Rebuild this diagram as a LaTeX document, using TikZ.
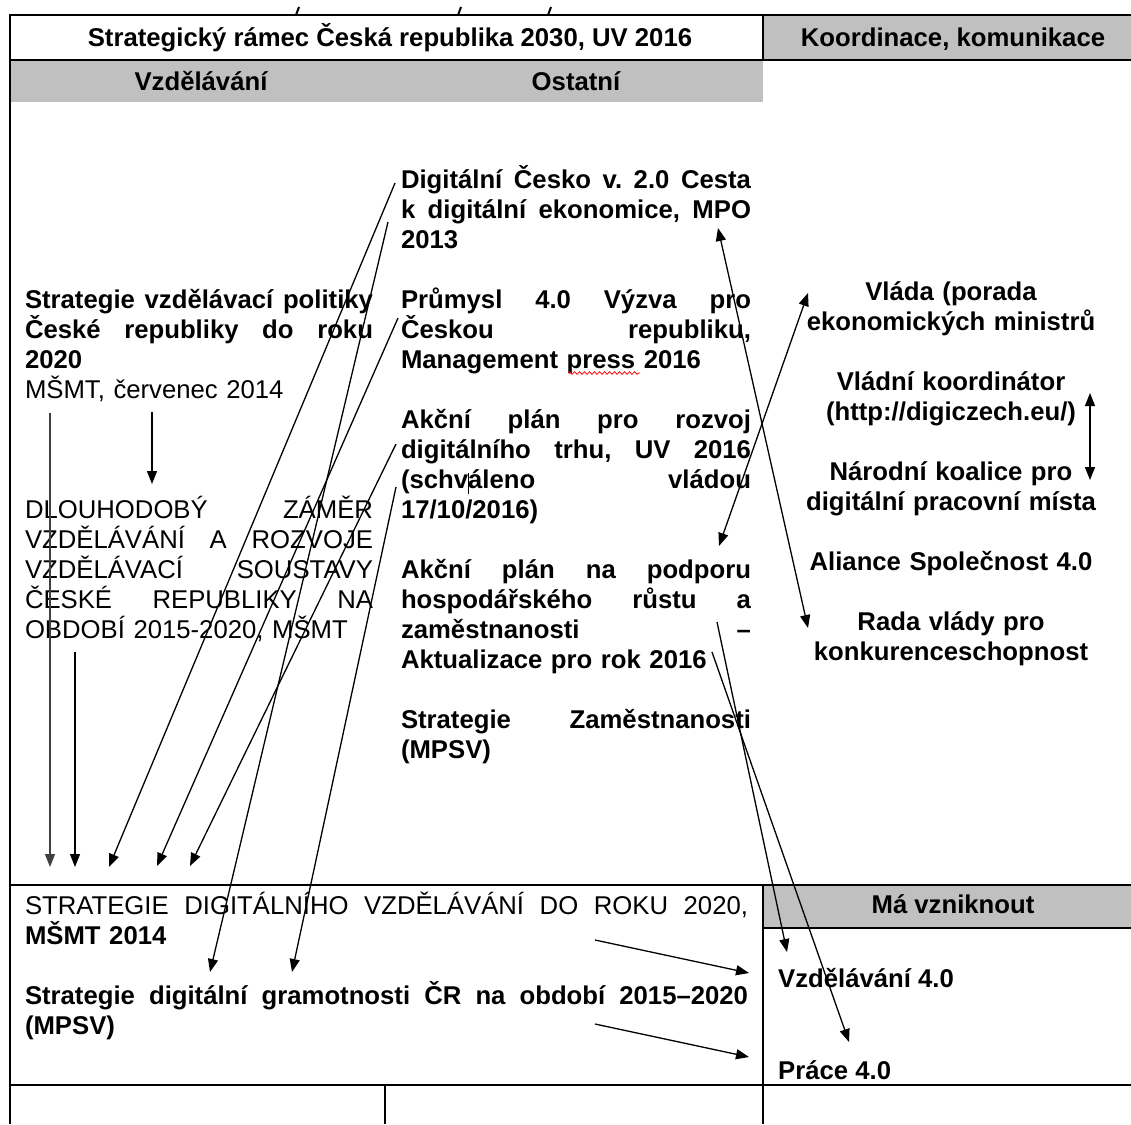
\documentclass[tikz,border=0pt]{standalone}
\usepackage{fontspec}
\setmainfont{Liberation Sans}
\usetikzlibrary{arrows.meta,decorations.pathmorphing}
\newcommand\jl[2]{\leavevmode\hbox to #1{#2}}
\newcommand\fst{\rule{0pt}{26pt}}
\definecolor{hdrgray}{RGB}{192,192,192}
\begin{document}
\begin{tikzpicture}[x=1pt,y=-1pt,
  bfnt/.style={font=\fontsize{25.7}{30}\selectfont\bfseries},
  rfnt/.style={font=\fontsize{25.7}{30}\selectfont},
  blockL/.style={inner sep=0pt,outer sep=0pt,anchor=north west,align=left},
  blockC/.style={inner sep=0pt,outer sep=0pt,anchor=north,align=center,text width=340pt},
  hdr/.style={inner sep=0pt,outer sep=0pt,anchor=base,bfnt},
  border/.style={line width=2.4pt},
  thinline/.style={line width=1.3pt},
  arr/.style={line width=1.3pt,-{Triangle[length=13pt,width=10pt]}},
  darr/.style={line width=1.3pt,{Triangle[length=13pt,width=10pt]}-{Triangle[length=13pt,width=10pt]}}]
\useasboundingbox (0,0) rectangle (1131,1124);

% gray fills
\fill[hdrgray] (763,15) rectangle (1131,60);
\fill[hdrgray] (10,60) rectangle (763,102);
\fill[hdrgray] (763,885) rectangle (1131,928);

% table lines
\draw[border] (10,15) -- (1131,15);
\draw[border] (10,14) -- (10,1124);
\draw[border] (10,60) -- (1131,60);
\draw[border] (763,15) -- (763,60);
\draw[border] (10,885) -- (1131,885);
\draw[border] (763,885) -- (763,1124);
\draw[border] (763,928) -- (1131,928);
\draw[border] (10,1085) -- (1131,1085);
\draw[thinline] (385,1085) -- (385,1124);

% cut-off marks at the top
\draw[line width=2pt] (299,7) -- (296,15);
\draw[line width=2pt] (461,7) -- (458,15);
\draw[line width=2pt] (551,7) -- (548,15);

% headers
\node[hdr] (title) at (390,47) {Strategický rámec Česká republika 2030, UV 2016};
\node[hdr] (koord) at (953,47) {Koordinace, komunikace};
\node[hdr] (vzdel) at (201,90) {Vzdělávání};
\node[hdr] (ostatni) at (576,90) {Ostatní};
\node[hdr] (mavz) at (953,913) {Má vzniknout};

% left column
\node[blockL,bfnt,text width=348pt] (svp) at (25,282) {\fst\jl{348pt}{Strategie\hfill vzdělávací\hfill politiky}\\
\jl{348pt}{České\hfill republiky\hfill do\hfill roku}\\
2020\\
{\mdseries MŠMT, červenec 2014}};
\node[blockL,rfnt,text width=348pt] (dz) at (25,492) {\fst\jl{348pt}{DLOUHODOBÝ\hfill ZÁMĚR}\\
\jl{348pt}{VZDĚLÁVÁNÍ\hfill A\hfill ROZVOJE}\\
\jl{348pt}{VZDĚLÁVACÍ\hfill SOUSTAVY}\\
\jl{348pt}{ČESKÉ\hfill REPUBLIKY\hfill NA}\\
OBDOBÍ 2015-2020, MŠMT};

% middle column
\node[blockL,bfnt,text width=350pt] (dc) at (401,162) {\fst\jl{350pt}{Digitální\hfill Česko\hfill v.\hfill 2.0\hfill Cesta}\\
\jl{350pt}{k\hfill digitální\hfill ekonomice,\hfill MPO}\\
2013};
\node[blockL,bfnt,text width=350pt] (prum) at (401,282) {\fst\jl{350pt}{Průmysl\hfill 4.0\hfill Výzva\hfill pro}\\
\jl{350pt}{Českou\hfill republiku,}\\
Management press 2016};
\node[blockL,bfnt,text width=350pt] (apdt) at (401,402) {\fst\jl{350pt}{Akční\hfill plán\hfill pro\hfill rozvoj}\\
\jl{350pt}{digitálního\hfill trhu,\hfill UV\hfill 2016}\\
\jl{350pt}{(schváleno\hfill vládou}\\
17/10/2016)};
\node[blockL,bfnt,text width=350pt] (aphr) at (401,552) {\fst\jl{350pt}{Akční\hfill plán\hfill na\hfill podporu}\\
\jl{350pt}{hospodářského\hfill růstu\hfill a}\\
\jl{350pt}{zaměstnanosti\hfill –}\\
Aktualizace pro rok 2016};
\node[blockL,bfnt,text width=350pt] (sz) at (401,702) {\fst\jl{350pt}{Strategie\hfill Zaměstnanosti}\\
(MPSV)};

% spell-check underline and text cursor
\draw[red,line width=0.8pt,decorate,decoration={snake,amplitude=1.3pt,segment length=5pt}] (568,373) -- (640,373);
\draw[line width=0.8pt] (468,473) -- (468,494);

% right column
\node[blockC,bfnt] (vlada) at (951,274) {\fst Vláda (porada\\ekonomických ministrů};
\node[blockC,bfnt] (vkoord) at (951,364) {\fst Vládní koordinátor\\(http://digiczech.eu/)};
\node[blockC,bfnt] (nkoal) at (951,454) {\fst Národní koalice pro\\digitální pracovní místa};
\node[blockC,bfnt] (aliance) at (951,544) {\fst Aliance Společnost 4.0};
\node[blockC,bfnt] (rada) at (951,604) {\fst Rada vlády pro\\konkurenceschopnost};

% bottom box
\node[blockL,rfnt,text width=723pt] (sdv) at (25,888) {\fst\jl{723pt}{STRATEGIE\hfill DIGITÁLNÍHO\hfill VZDĚLÁVÁNÍ\hfill DO\hfill ROKU\hfill 2020,}\\
{\bfseries MŠMT 2014}};
\node[blockL,bfnt,text width=723pt] (sdg) at (25,978) {\fst\jl{723pt}{Strategie\hfill digitální\hfill gramotnosti\hfill ČR\hfill na\hfill období\hfill 2015–2020}\\
(MPSV)};
\node[inner sep=0pt,anchor=base west,bfnt] (vzd40) at (778,987) {Vzdělávání 4.0};
\node[inner sep=0pt,anchor=base west,bfnt] (prace40) at (778,1079) {Práce 4.0};

% connector end points
\coordinate (p1s) at (50,413);  \coordinate (p1e) at (50,867);
\coordinate (p2s) at (75,652);  \coordinate (p2e) at (75,867);
\coordinate (p3s) at (152,412); \coordinate (p3e) at (152,484);
\coordinate (las) at (395,183); \coordinate (lae) at (109,867);
\coordinate (lbs) at (388,222); \coordinate (lbe) at (210,972);
\coordinate (lcs) at (398,318); \coordinate (lce) at (157,866);
\coordinate (lds) at (396,444); \coordinate (lde) at (190,866);
\coordinate (les) at (396,487); \coordinate (lee) at (292,972);
\coordinate (d1a) at (718,228); \coordinate (d1b) at (808,628);
\coordinate (d2a) at (808,293); \coordinate (d2b) at (719,546);
\coordinate (d3a) at (1090,393); \coordinate (d3b) at (1090,480);
\coordinate (m1s) at (717,622); \coordinate (m1e) at (787,952);
\coordinate (m2s) at (712,652); \coordinate (m2e) at (849,1042);
\coordinate (h1s) at (595,940); \coordinate (h1e) at (749,973);
\coordinate (h2s) at (595,1024); \coordinate (h2e) at (749,1057);

% connectors
\draw[arr,draw=black!75] (p1s) -- (p1e);
\draw[arr] (p2s) -- (p2e);
\draw[arr] (p3s) -- (p3e);
\draw[arr] (las) -- (lae);
\draw[arr] (lbs) -- (lbe);
\draw[arr] (lcs) -- (lce);
\draw[arr] (lds) -- (lde);
\draw[arr] (les) -- (lee);
\draw[darr] (d1a) -- (d1b);
\draw[darr] (d2a) -- (d2b);
\draw[darr] (d3a) -- (d3b);
\draw[arr] (m1s) -- (m1e);
\draw[arr] (m2s) -- (m2e);
\draw[arr] (h1s) -- (h1e);
\draw[arr] (h2s) -- (h2e);
\end{tikzpicture}
\end{document}
